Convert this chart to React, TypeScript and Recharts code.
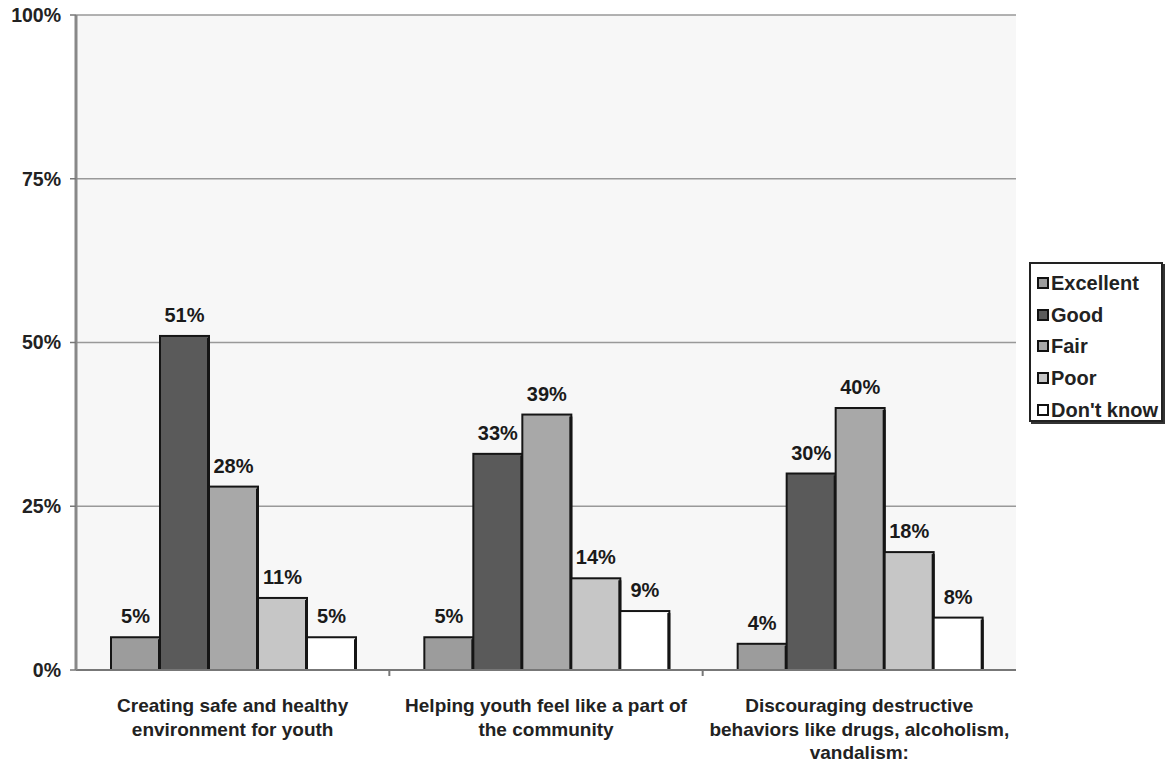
import React from 'react';
import { BarChart, Bar, XAxis, YAxis, CartesianGrid, LabelList } from 'recharts';

const categories = [
  ['Creating safe and healthy', 'environment for youth'],
  ['Helping youth feel like a part of', 'the community'],
  ['Discouraging destructive', 'behaviors like drugs, alcoholism,', 'vandalism:'],
];
const excellent = [5, 5, 4];
const good = [51, 33, 30];
const fair = [28, 39, 40];
const poor = [11, 14, 18];
const dontKnow = [5, 9, 8];
const yTicks = [0, 25, 50, 75, 100];

const series = [
  { key: 'excellent', name: 'Excellent', color: '#9c9c9c', values: excellent },
  { key: 'good', name: 'Good', color: '#5a5a5a', values: good },
  { key: 'fair', name: 'Fair', color: '#a8a8a8', values: fair },
  { key: 'poor', name: 'Poor', color: '#c6c6c6', values: poor },
  { key: 'dontKnow', name: "Don't know", color: '#ffffff', values: dontKnow },
];

const data = categories.map((lines, i) => {
  const row: any = { name: lines.join(' '), lines };
  series.forEach((s) => {
    row[s.key] = s.values[i];
  });
  return row;
});

const FONT = '"Liberation Sans", Arial, Helvetica, sans-serif';

const BarShape = (props: any) => {
  const { x, y, width, height, fill } = props;
  if (height == null || height <= 0) return null;
  return (
    <g>
      <rect x={x} y={y} width={width} height={height} fill={fill} stroke="#151515" strokeWidth={2} />
      <rect x={x + width - 2} y={y + 2} width={3} height={height - 2} fill="#151515" />
    </g>
  );
};

const CategoryTick = (props: any) => {
  const { x, y, payload, index } = props;
  const lines: string[] = data[index] ? data[index].lines : [String(payload.value)];
  const off = payload && payload.offset ? payload.offset : 0;
  return (
    <g>
      {index < data.length - 1 && (
        <line x1={x + off} x2={x + off} y1={y} y2={y + 6} stroke="#777" strokeWidth={2} />
      )}
      <text x={x} y={y + 42} textAnchor="middle" fontFamily={FONT} fontSize={19} fontWeight="bold" fill="#222">
        {lines.map((l, i) => (
          <tspan key={i} x={x} dy={i === 0 ? 0 : 23.5}>
            {l}
          </tspan>
        ))}
      </text>
    </g>
  );
};

const Legend = () => (
  <div
    style={{
      position: 'absolute',
      left: 1029,
      top: 262,
      width: 134,
      height: 160,
      border: '2px solid #222',
      boxShadow: '2px 2px 0 #333',
      background: '#fff',
      boxSizing: 'border-box',
      fontFamily: FONT,
      fontSize: 20,
      fontWeight: 'bold',
      color: '#222',
      paddingTop: 3,
    }}
  >
    {series.map((s) => (
      <div key={s.key} style={{ display: 'flex', alignItems: 'center', height: 31.7, paddingLeft: 6 }}>
        <div
          style={{
            width: 12,
            height: 12,
            border: '2px solid #111',
            background: s.color,
            boxSizing: 'border-box',
            marginRight: 2,
            flexShrink: 0,
          }}
        />
        <span style={{ whiteSpace: 'nowrap', lineHeight: '20px' }}>{s.name}</span>
      </div>
    ))}
  </div>
);

export default function App() {
  return (
    <div style={{ position: 'absolute', left: 0, top: 0, width: 1167, height: 771, background: '#fff' }}>
      <BarChart
        width={1167}
        height={771}
        data={data}
        margin={{ top: 15, right: 151, bottom: 0, left: 0 }}
        barCategoryGap={35}
        barGap={0}
      >
        <CartesianGrid vertical={false} stroke="#999" strokeWidth={1.5} fill="#f7f7f7" />
        <XAxis
          dataKey="name"
          height={101}
          interval={0}
          tickLine={false}
          tickSize={0}
          tickMargin={0}
          axisLine={{ stroke: '#777', strokeWidth: 2 }}
          tick={<CategoryTick />}
        />
        <YAxis
          width={76}
          domain={[0, 100]}
          ticks={yTicks}
          interval={0}
          tickFormatter={(v: number) => `${v}%`}
          axisLine={{ stroke: '#888', strokeWidth: 3 }}
          tickLine={{ stroke: '#777', strokeWidth: 1.5 }}
          tickSize={6}
          tickMargin={9}
          tick={{ fontFamily: FONT, fontSize: 19.5, fontWeight: 'bold', fill: '#222' }}
        />
        <YAxis
          yAxisId="right"
          orientation="right"
          width={0}
          tick={false}
          tickLine={false}
          axisLine={{ stroke: '#888', strokeWidth: 2 }}
        />
        {series.map((s) => (
          <Bar
            key={s.key}
            dataKey={s.key}
            name={s.name}
            fill={s.color}
            isAnimationActive={false}
            shape={<BarShape />}
          >
            <LabelList
              dataKey={s.key}
              position="top"
              offset={14}
              formatter={(v: any) => `${v}%`}
              style={{ fontFamily: FONT, fontSize: 20, fontWeight: 'bold', fill: '#1a1a1a' }}
            />
          </Bar>
        ))}
      </BarChart>
      <Legend />
    </div>
  );
}
